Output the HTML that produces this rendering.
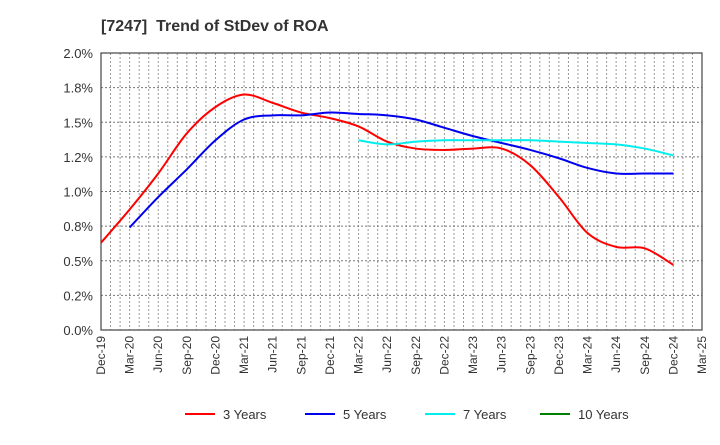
<!DOCTYPE html>
<html><head><meta charset="utf-8"><style>
body{margin:0;background:#fff;font-family:"Liberation Sans",sans-serif;}
svg text{font-family:"Liberation Sans",sans-serif;}
</style></head><body>
<svg id="chart" width="720" height="440" xmlns="http://www.w3.org/2000/svg">
<text x="101" y="31" font-size="16" font-weight="bold" fill="#333" xml:space="preserve" style="white-space:pre">[7247]  Trend of StDev of ROA</text>
<g id="grid"></g><g id="axes"></g><g id="series"></g><g id="legend"></g>
</svg>
<script>
const xLabels=["Dec-19","Mar-20","Jun-20","Sep-20","Dec-20","Mar-21","Jun-21","Sep-21","Dec-21","Mar-22","Jun-22","Sep-22","Dec-22","Mar-23","Jun-23","Sep-23","Dec-23","Mar-24","Jun-24","Sep-24","Dec-24","Mar-25"];
const yTicks=[0,0.25,0.5,0.75,1.0,1.25,1.5,1.75,2.0];
const yTickLabels=["0.0%","0.2%","0.5%","0.8%","1.0%","1.2%","1.5%","1.8%","2.0%"];
const seriesNames=["3 Years","5 Years","7 Years","10 Years"];
const red=[0.63,0.87,1.13,1.42,1.61,1.70,1.64,1.57,1.53,1.47,1.36,1.31,1.30,1.31,1.31,1.19,0.96,0.70,0.60,0.59,0.47];
const blue=[null,0.74,0.96,1.16,1.37,1.52,1.55,1.55,1.57,1.56,1.55,1.52,1.46,1.40,1.35,1.30,1.24,1.17,1.13,1.13,1.13];
const cyan=[null,null,null,null,null,null,null,null,null,1.37,1.34,1.36,1.37,1.37,1.37,1.37,1.36,1.35,1.34,1.31,1.26];
const green=[];
const L=101,R=702,T=53,B=330;
const xs=i=>L+(R-L)*i/(xLabels.length-1);
const ys=v=>B-(B-T)*v/2.0;
const NS="http://www.w3.org/2000/svg";
function mk(tag,attrs,parent){const e=document.createElementNS(NS,tag);for(const k in attrs)e.setAttribute(k,attrs[k]);parent.appendChild(e);return e;}
const grid=document.getElementById('grid'),axes=document.getElementById('axes'),ser=document.getElementById('series'),leg=document.getElementById('legend');
const nm=(xLabels.length-1)*3;
for(let m=1;m<nm;m++){const x=L+(R-L)*m/nm;const g=mk('line',{x1:x,x2:x,y1:T,y2:B,stroke:'#999','stroke-width':1,'stroke-dasharray':'2,2'},grid);

}
yTicks.forEach((v,i)=>{const y=ys(v);
const g=mk('line',{x1:L,x2:R,y1:y,y2:y,stroke:'#777','stroke-width':1,'stroke-dasharray':'2,2'},grid);


const t=mk('text',{x:L-8,y:y+5,'text-anchor':'end','font-size':13,fill:'#333'},axes);t.textContent=yTickLabels[i];

});
const fr=mk('rect',{x:L,y:T,width:R-L,height:B-T,fill:'none',stroke:'#444','stroke-width':1.2},axes);


xLabels.forEach((s,i)=>{const x=xs(i);const t=mk('text',{transform:`translate(${x+4},${B+6}) rotate(-90)`,'text-anchor':'end','font-size':12,fill:'#333'},axes);t.textContent=s;

});
function path(arr){const p=[];arr.forEach((v,i)=>{if(v!=null)p.push([xs(i),ys(v)]);});if(p.length<2)return '';
let d=`M${p[0][0]},${p[0][1]}`;for(let i=0;i<p.length-1;i++){const p0=p[Math.max(0,i-1)],p1=p[i],p2=p[i+1],p3=p[Math.min(p.length-1,i+2)];
const c1=[p1[0]+(p2[0]-p0[0])/6,p1[1]+(p2[1]-p0[1])/6],c2=[p2[0]-(p3[0]-p1[0])/6,p2[1]-(p3[1]-p1[1])/6];
d+=`C${c1[0]},${c1[1]} ${c2[0]},${c2[1]} ${p2[0]},${p2[1]}`;}return d;}
const all=[[red,'#ff0000','series-3-years'],[blue,'#0000ee','series-5-years'],[cyan,'#00eeee','series-7-years'],[green,'#008000','series-10-years']];
all.forEach(([a,c,n])=>{const d=path(a);if(!d)return;const e=mk('path',{d:d,fill:'none',stroke:c,'stroke-width':2},ser);

});
const lx=[185,305,425,540];
seriesNames.forEach((s,i)=>{const g=mk('g',{},leg);


mk('line',{x1:lx[i],x2:lx[i]+30,y1:414,y2:414,stroke:all[i][1],'stroke-width':2},g);
const t=mk('text',{x:lx[i]+38,y:419,'font-size':13,fill:'#333'},g);t.textContent=s;});
</script>
</body></html>
